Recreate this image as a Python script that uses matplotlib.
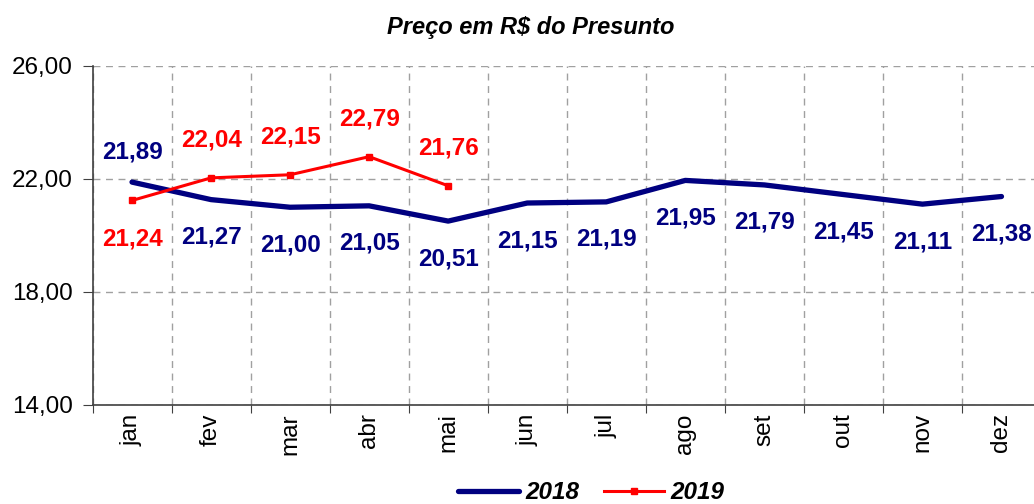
import matplotlib
matplotlib.use("Agg")
import matplotlib.pyplot as plt
import numpy as np

months = ["jan", "fev", "mar", "abr", "mai", "jun", "jul", "ago", "set", "out", "nov", "dez"]
v2018 = [21.89, 21.27, 21.00, 21.05, 20.51, 21.15, 21.19, 21.95, 21.79, 21.45, 21.11, 21.38]
v2019 = [21.24, 22.04, 22.15, 22.79, 21.76]
yticks = [14, 18, 22, 26]
title = "Preço em R$ do Presunto"

plt.rcParams['font.family'] = ['Liberation Sans', 'DejaVu Sans']

fig = plt.figure(figsize=(10.34, 5.04), dpi=100)
ax = fig.add_axes([92.5/1034, 99/504, 948.5/1034, 339/504])

x18 = np.arange(len(v2018)) + 0.5
x19 = np.arange(len(v2019)) + 0.5
navy = "#000080"
red = "#FF0000"
l1, = ax.plot(x18, v2018, color=navy, lw=3.8, solid_capstyle='round', label="2018", zorder=3)
l2, = ax.plot(x19, v2019, color=red, lw=2.2, marker='s', markersize=5, label="2019", zorder=4)

def fmt(v):
    return f"{v:.2f}".replace(".", ",")

FS = 17.5
for i, v in enumerate(v2018):
    off = 22 if i == 0 else -27
    ax.annotate(fmt(v), (x18[i], v), xytext=(0, off), textcoords='offset points',
                ha='center', va='center', color=navy, fontsize=FS, fontweight='bold',
                annotation_clip=False)
for i, v in enumerate(v2019):
    off = -28 if i == 0 else 27
    ax.annotate(fmt(v), (x19[i], v), xytext=(0, off), textcoords='offset points',
                ha='center', va='center', color=red, fontsize=FS, fontweight='bold',
                annotation_clip=False)

ax.set_xlim(0, 12)
ax.set_ylim(14, 26)
ax.set_yticks(yticks)
ax.set_yticklabels([fmt(v) for v in yticks], fontsize=FS)
ax.set_xticks(np.arange(0, 13))
ax.set_xticklabels([])
ax.set_xticks(x18, minor=True)
ax.set_xticklabels(months, minor=True, rotation=90, fontsize=FS)
ax.tick_params(axis='x', which='minor', length=0, pad=6)
ax.tick_params(axis='x', which='major', length=6, direction='out', color='#404040')
ax.tick_params(axis='y', length=7, direction='out', color='#404040', pad=7)

ax.grid(True, which='major', color='#A0A0A0', linestyle=(0, (5, 4)), linewidth=1)
ax.set_axisbelow(True)
for s in ['top', 'right']:
    ax.spines[s].set_visible(False)
for s in ['left', 'bottom']:
    ax.spines[s].set_color('#404040')
    ax.spines[s].set_linewidth(1.2)

fig.text(0.513, 0.945, title, ha='center', va='center', fontsize=17, fontweight='bold', fontstyle='italic')

fig.legend(handles=[l1, l2], loc='center', bbox_to_anchor=(0.572, 0.022), ncol=2, frameon=False,
           prop={'size': FS, 'weight': 'bold', 'style': 'italic'}, handlelength=2.5,
           handletextpad=0.25, columnspacing=1.0, borderpad=0)

fig.savefig("out.png", dpi=100)
